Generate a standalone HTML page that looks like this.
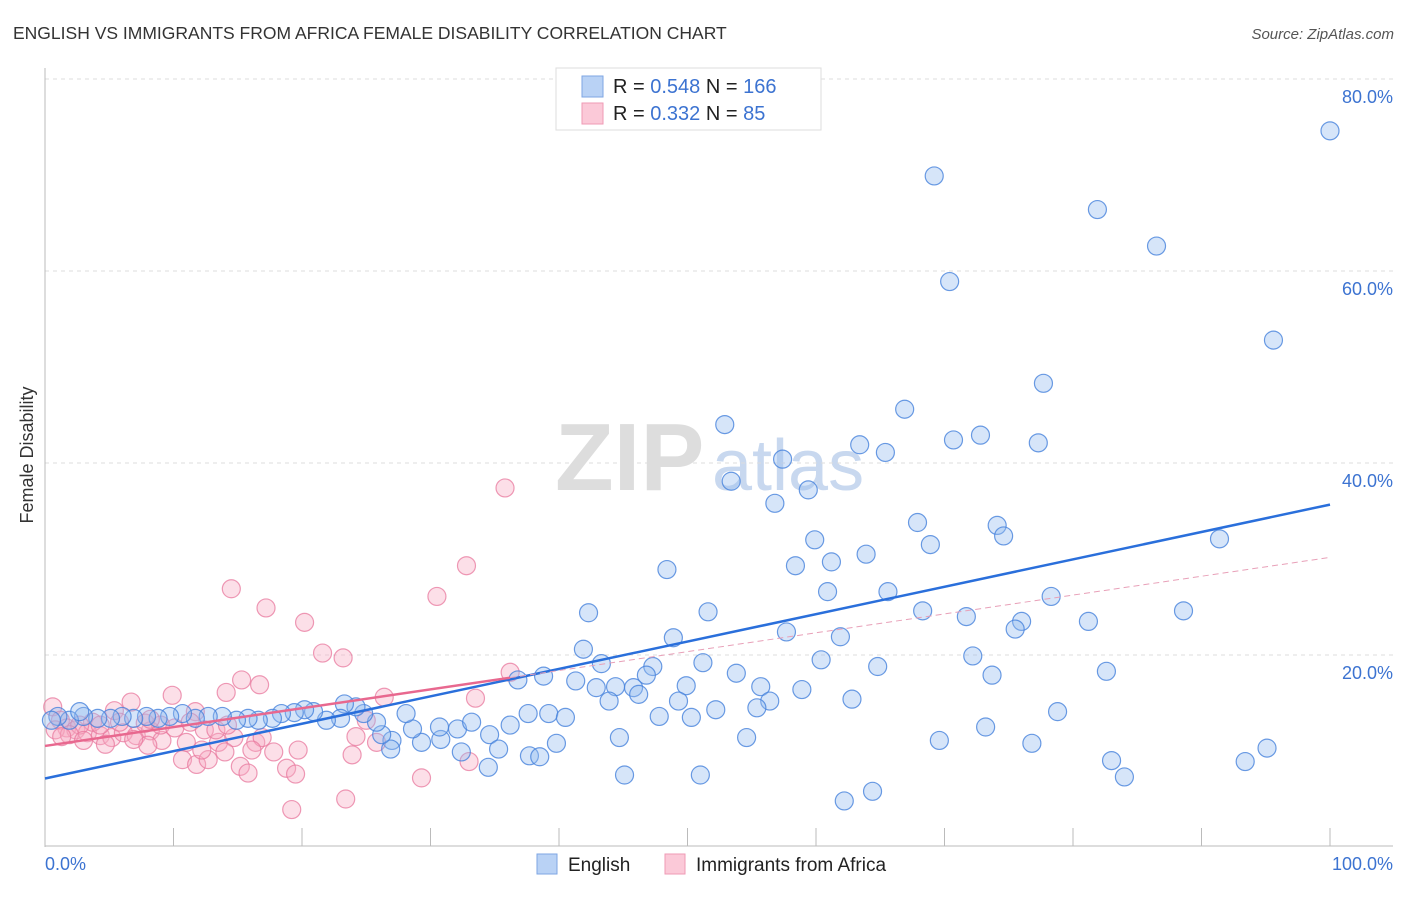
<!DOCTYPE html>
<html><head><meta charset="utf-8">
<style>
body{margin:0;background:#fff;font-family:"Liberation Sans",sans-serif;}
svg text{font-family:"Liberation Sans",sans-serif;}
</style></head>
<body>
<svg id="chart" width="1406" height="892" viewBox="0 0 1406 892" xmlns="http://www.w3.org/2000/svg">
<text x="13" y="39" font-size="17.5" fill="#333">ENGLISH VS IMMIGRANTS FROM AFRICA FEMALE DISABILITY CORRELATION CHART</text>
<text x="1394" y="39" font-size="15" fill="#555" font-style="italic" text-anchor="end">Source: ZipAtlas.com</text>
<text transform="translate(33,455) rotate(-90)" font-size="18" fill="#333" text-anchor="middle">Female Disability</text>
<g>
<text x="555" y="490" font-size="96" font-family="Liberation Serif" fill="#ddd" font-weight="bold">ZIP</text>
<text x="712" y="490" font-size="72" fill="#c8d8ef">atlas</text>
</g>
<g id="grid"></g>
<g id="axes"></g>
<g id="pinkPts"></g>
<g id="bluePts"></g>
<g id="lines"></g>
<g>
<rect x="556" y="68" width="265" height="62" fill="#fff" stroke="#ddd"/>
<rect x="582" y="76" width="21" height="21" fill="#b9d2f5" stroke="#7ea6e3"/>
<text x="613" y="93" font-size="20" fill="#222">R = <tspan fill="#3c73d1">0.548</tspan>   N = <tspan fill="#3c73d1">166</tspan></text>
<rect x="582" y="103" width="21" height="21" fill="#fbc9d8" stroke="#ef9ab5"/>
<text x="613" y="120" font-size="20" fill="#222">R =  <tspan fill="#3c73d1">0.332</tspan>   N =   <tspan fill="#3c73d1">85</tspan></text>
</g>
<g>
<rect x="537" y="854" width="20" height="20" fill="#b9d2f5" stroke="#7ea6e3"/>
<text x="568" y="871" font-size="19" fill="#222">English</text>
<rect x="665" y="854" width="20" height="20" fill="#fbc9d8" stroke="#ef9ab5"/>
<text x="696" y="871" font-size="19" fill="#222">Immigrants from Africa</text>
</g>
</svg>
<script>
const yTicks=[20,40,60,80];
const yTickLabels=["20.0%","40.0%","60.0%","80.0%"];
const xTickCount=10;
const xEndLabels=["0.0%","100.0%"];
const blueX=[100,69.2,81.9,86.5,70.4,95.6,77.7,66.9,52.9,63.4,70.7,72.8,77.3,65.4,57.4,53.4,59.4,56.8,67.9,74.1,74.6,59.9,68.9,91.4,63.9,58.4,61.2,48.4,60.9,65.6,78.3,51.6,42.3,68.3,71.7,88.6,76.0,75.5,81.2,57.7,48.9,61.9,41.9,72.2,60.4,43.3,51.2,64.8,82.6,73.7,47.3,46.8,53.8,36.8,38.8,41.3,44.4,42.9,45.8,49.9,55.7,46.2,43.9,49.3,56.4,58.9,62.8,52.2,55.4,78.8,47.8,50.3,39.2,40.5,37.6,36.2,34.6,32.1,33.2,35.3,30.8,32.4,34.5,37.7,38.5,39.8,44.7,29.3,28.6,30.7,28.1,27.0,26.9,26.2,25.8,24.8,24.2,23.3,23.0,21.9,20.9,20.2,19.4,18.4,17.7,16.6,15.8,14.9,13.8,12.7,11.7,10.7,9.7,8.8,7.9,6.9,6.0,5.1,4.1,3.0,1.9,1.0,0.5,2.7,69.6,73.2,76.8,54.6,45.1,51.0,62.2,64.4,83.0,84.0,93.4,95.1];
const blueY=[74.6,69.9,66.4,62.6,58.9,52.8,48.3,45.6,44.0,41.9,42.4,42.9,42.1,41.1,40.4,38.1,37.2,35.8,33.8,33.5,32.4,32.0,31.5,32.1,30.5,29.3,29.7,28.9,26.6,26.6,26.1,24.5,24.4,24.6,24.0,24.6,23.5,22.7,23.5,22.4,21.8,21.9,20.6,19.9,19.5,19.1,19.2,18.8,18.3,17.9,18.8,17.9,18.1,17.4,17.8,17.3,16.7,16.6,16.6,16.8,16.7,15.9,15.2,15.2,15.2,16.4,15.4,14.3,14.5,14.1,13.6,13.5,13.9,13.5,13.9,12.7,11.7,12.3,13.0,10.2,11.2,9.9,8.3,9.5,9.4,10.8,11.4,10.9,12.3,12.5,13.9,11.1,10.2,11.7,13.0,13.9,14.6,14.9,13.4,13.2,14.1,14.3,14.0,13.9,13.4,13.2,13.4,13.2,13.6,13.6,13.4,13.9,13.6,13.4,13.6,13.4,13.6,13.4,13.4,13.6,13.2,13.6,13.2,14.1,11.1,12.5,10.8,11.4,7.5,7.5,4.8,5.8,9.0,7.3,8.9,10.3];
const pinkX=[35.8,32.8,30.5,14.5,17.2,20.2,21.6,23.2,15.3,16.7,14.1,9.9,6.7,26.4,33.5,36.2,11.7,5.4,0.6,1.2,1.7,2.4,3.3,4.3,5.2,6.1,7.1,8.2,9.1,8.0,6.9,11.0,12.4,13.5,14.7,16.4,16.9,13.3,10.7,11.8,12.7,12.2,14.0,15.2,15.8,16.1,17.8,18.8,19.5,19.7,19.2,23.4,23.9,24.2,25.8,29.3,33.0,25.0,7.8,9.0,3.7,2.7,0.8,1.9,4.3,5.8,10.1,11.3,14.2,8.2,3.0,4.7,1.3];
const pinkY=[37.4,29.3,26.1,26.9,24.9,23.4,20.2,19.7,17.4,16.9,16.1,15.8,15.1,15.6,15.5,18.2,14.1,14.2,14.6,13.2,12.4,12.2,11.9,11.6,11.4,11.9,11.6,12.1,11.1,10.6,11.2,10.9,12.2,10.9,11.4,10.9,11.4,12.2,9.1,8.6,9.1,10.1,9.9,8.4,7.7,10.1,9.9,8.2,7.6,10.1,3.9,5.0,9.6,11.5,10.9,7.2,8.9,13.2,12.9,12.7,13.0,12.7,12.2,11.7,12.7,13.0,12.4,13.0,12.7,13.3,11.1,10.7,11.5];

const NS="http://www.w3.org/2000/svg";
const X0=45,X1=1330,Y0=847,YPER=9.6;
function sx(v){return X0+(X1-X0)*v/100;}
function sy(v){return Y0-v*YPER;}
function mk(tag,attrs,parent){const e=document.createElementNS(NS,tag);for(const k in attrs)e.setAttribute(k,attrs[k]);parent.appendChild(e);return e;}
const grid=document.getElementById('grid'),axes=document.getElementById('axes');
yTicks.forEach((t,i)=>{
  const l=mk('line',{x1:45,x2:1393,y1:sy(t),y2:sy(t),stroke:'#ddd','stroke-dasharray':'4,4'},grid);
  
  
  const tx=mk('text',{x:1393,y:sy(t)+24,'font-size':18,fill:'#3c73d1','text-anchor':'end'},axes);
  tx.textContent=yTickLabels[i];
  
  
});
const ax=mk('line',{x1:45,x2:45,y1:68,y2:847,stroke:'#bbb'},axes);


const bx=mk('line',{x1:45,x2:1393,y1:846,y2:846,stroke:'#bbb'},axes);


for(let i=0;i<=xTickCount;i++){
  const v=i*100/xTickCount;
  const tk=mk('line',{x1:sx(v),x2:sx(v),y1:828,y2:846,stroke:'#bbb'},axes);
  
  
}
const xl0=mk('text',{x:45,y:870,'font-size':18,fill:'#3c73d1'},axes);xl0.textContent=xEndLabels[0];


const xl1=mk('text',{x:1393,y:870,'font-size':18,fill:'#3c73d1','text-anchor':'end'},axes);xl1.textContent=xEndLabels[1];



function pts(xs,ys,g,fill,stroke,name){
  xs.forEach((x,i)=>{
    const c=mk('circle',{cx:sx(x),cy:sy(ys[i]),r:9,fill:fill,stroke:stroke,'stroke-width':1.2},g);
    
    
  });
}
pts(pinkX,pinkY,document.getElementById('pinkPts'),'rgba(246,170,195,0.38)','rgba(232,120,158,0.75)','africa-point');
pts(blueX,blueY,document.getElementById('bluePts'),'rgba(147,187,240,0.38)','rgba(70,130,220,0.8)','english-point');

function fit(xs,ys){const n=xs.length;let mx=0,my=0;for(let i=0;i<n;i++){mx+=xs[i];my+=ys[i];}mx/=n;my/=n;let sxy=0,sxx=0;for(let i=0;i<n;i++){sxy+=(xs[i]-mx)*(ys[i]-my);sxx+=(xs[i]-mx)**2;}const b=sxy/sxx;return[my-b*mx,b];}
const lg=document.getElementById('lines');
const [ba,bb]=fit(blueX,blueY);
const bl=mk('line',{x1:sx(0),y1:sy(ba),x2:sx(100),y2:sy(ba+bb*100),stroke:'#2a6fdb','stroke-width':2.5},lg);


const [pa,pb]=fit(pinkX,pinkY);
const pmax=Math.max(...pinkX);
const pl=mk('line',{x1:sx(0),y1:sy(pa),x2:sx(pmax),y2:sy(pa+pb*pmax),stroke:'#e8688f','stroke-width':2.5},lg);


const pd=mk('line',{x1:sx(pmax),y1:sy(pa+pb*pmax),x2:sx(100),y2:sy(pa+pb*100),stroke:'#e8a0b8','stroke-width':1,'stroke-dasharray':'6,4'},lg);


</script>
</body></html>
